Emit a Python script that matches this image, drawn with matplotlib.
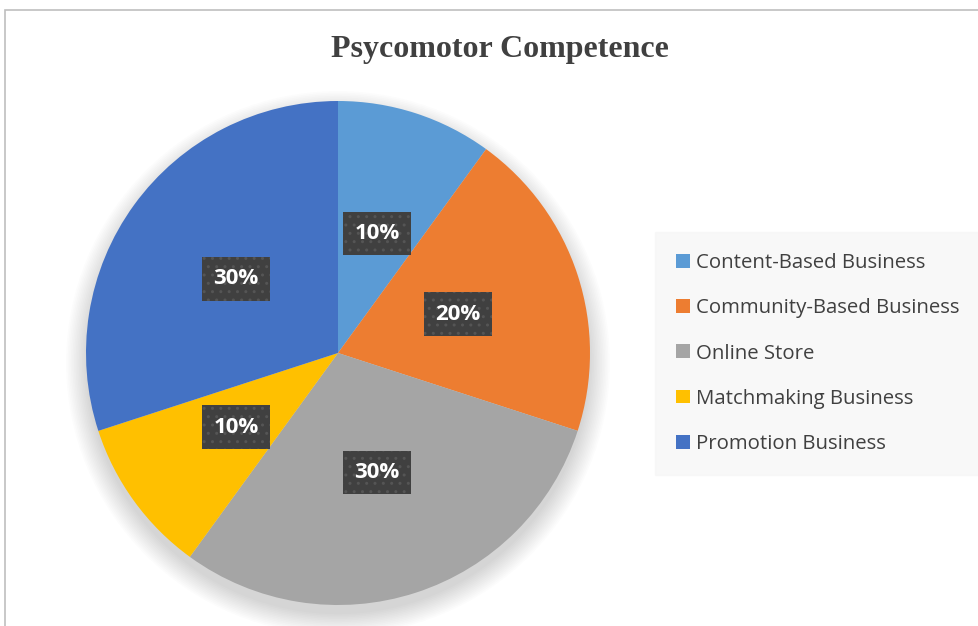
import matplotlib
matplotlib.use("Agg")
import matplotlib.pyplot as plt
from matplotlib.patches import Circle, Rectangle

categories = ["Content-Based Business", "Community-Based Business", "Online Store",
              "Matchmaking Business", "Promotion Business"]
shares = [10, 20, 30, 10, 30]
colors = ["#5b9bd5", "#ed7d31", "#a5a5a5", "#ffc000", "#4472c4"]
title = "Psycomotor Competence"

W, H = 979, 626
fig = plt.figure(figsize=(W / 100, H / 100), dpi=100)
ax = fig.add_axes([0, 0, 1, 1])

cx, cy, r = 338, H - 353, 252

# soft shadow under the pie
for i in range(14):
    ax.add_patch(Circle((cx, cy - 10), r + 20 - i * 1.6, color="#000000",
                        alpha=0.012, lw=0, zorder=1))

wedges, texts, autotexts = ax.pie(
    shares, colors=colors, startangle=90, counterclock=False,
    center=(cx, cy), radius=r, autopct="%d%%", pctdistance=0.5,
    wedgeprops=dict(linewidth=0), frame=True)
ax.set_xlim(0, W)
ax.set_ylim(0, H)
ax.set_aspect("equal")
ax.axis("off")
for w in wedges:
    w.set_zorder(2)

# chart frame (runs off the right/bottom edge in the original)
ax.add_patch(Rectangle((5, -10), W + 20, H - 10 + 10, fill=False,
                       edgecolor="#bfbfbf", lw=1.2, zorder=0))

for t in autotexts:
    t.set_color("white")
    t.set_fontfamily("Open Sans")
    t.set_fontweight("bold")
    t.set_fontsize(16)
    t.set_zorder(5)
    t.set_bbox(dict(boxstyle="square,pad=0.5", facecolor="#404040",
                    edgecolor="#555555", linewidth=0, hatch=".."))

fig.text(0.511, 1 - 50 / H, title, ha="center", va="center",
         fontfamily="Liberation Serif", fontweight="bold", fontsize=23,
         color="#404040")

leg = ax.legend(wedges, categories, loc="upper left",
                bbox_to_anchor=(661 / W, 1 - 238 / H), frameon=True,
                prop=dict(family="Open Sans", size=14.7),
                handlelength=0.67, handleheight=0.67, handletextpad=0.3,
                labelspacing=1.23, borderpad=0.75, borderaxespad=0)
leg.get_frame().set_facecolor("#f7f7f7")
leg.get_frame().set_edgecolor("#f7f7f7")
leg.get_frame().set_boxstyle("square")
for t in leg.get_texts():
    t.set_color("#404040")

fig.savefig("out.png", dpi=100)
